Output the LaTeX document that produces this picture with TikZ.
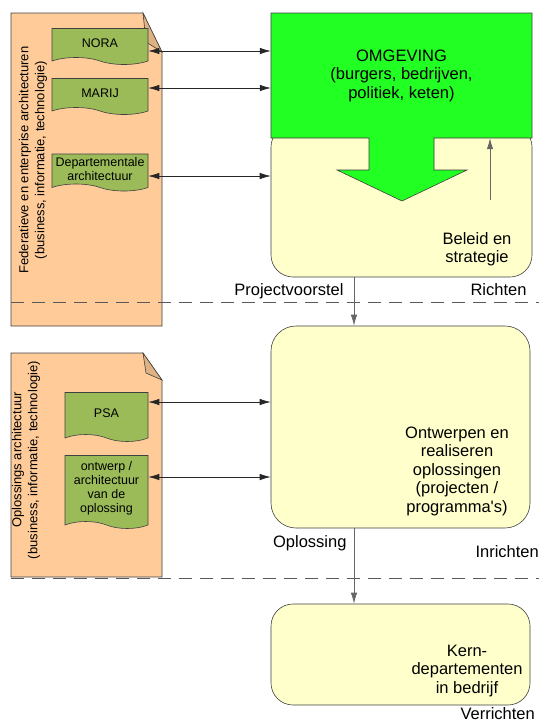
\documentclass[tikz,border=0pt]{standalone}
\usepackage{fontspec}
\setmainfont{Liberation Sans}
\usetikzlibrary{shapes.symbols, arrows.meta}

\definecolor{peach}{HTML}{FFCC99}
\definecolor{foldbrown}{HTML}{DEB282}
\definecolor{olive}{HTML}{9BBB59}
\definecolor{brightgreen}{HTML}{22FF22}
\definecolor{paleyellow}{HTML}{FFFFCC}
\definecolor{outline}{HTML}{404040}

\begin{document}
\begin{tikzpicture}[x=1pt,y=-1pt]

\tikzset{page/.style = {fill=peach, draw=outline, line width=0.6pt}}
\tikzset{fold/.style = {fill=foldbrown, draw=outline, line width=0.6pt}}
\tikzset{doc/.style = {shape=tape, tape bend top=none, tape bend bottom=out and in, tape bend height=7pt, draw=outline, fill=olive, line width=0.6pt, font=\fontsize{12.5}{14}\selectfont, align=center, inner sep=1pt}}
\tikzset{box/.style = {rectangle, rounded corners=22pt, draw=outline, fill=paleyellow, line width=0.6pt}}
\tikzset{txt/.style = {font=\fontsize{16.5}{18.5}\selectfont, align=center}}
\tikzset{side/.style = {rotate=90, font=\fontsize{13}{16}\selectfont, align=center}}
\tikzset{edge/.style = {<->, >={Latex[length=11pt,width=6.5pt]}, draw=black!85, line width=0.7pt}}
\tikzset{flow/.style = {->, >={Latex[length=11pt,width=6.5pt]}, draw=black!60, line width=0.8pt}}
\tikzset{sep/.style = {draw=black!65, dash pattern=on 13pt off 8pt, line width=0.7pt}}

\useasboundingbox (0,0) rectangle (539,721);

%documents
\draw[page] (11,13) -- (143,13) -- (162,52) -- (162,326) -- (11,326) -- cycle;
\draw[fold] (143,13) -- (162,52) -- (146,42) -- cycle;
\draw[page] (11,353) -- (143,353) -- (162,380) -- (162,577) -- (11,577) -- cycle;
\draw[fold] (143,353) -- (162,380) -- (146,373) -- cycle;
\node[side] (fed) at (33,160) {Federatieve en enterprise architecturen\\(business, informatie, technologie)};
\node[side] (sol) at (26,460) {Oplossings architectuur\\(business, informatie, technologie)};

\node[doc, minimum width=96pt, minimum height=36pt] (nora) at (100,43) {NORA};
\node[doc, minimum width=96pt, minimum height=36pt] (marij) at (100,93) {MARIJ};
\node[doc, minimum width=96pt, minimum height=37pt] (dept) at (100,169) {Departementale\\architectuur};
\node[doc, minimum width=83pt, minimum height=49pt] (psa) at (106.5,413.5) {PSA};
\node[doc, minimum width=83pt, minimum height=73pt] (design) at (106.5,488.5) {ontwerp /\\architectuur\\van de\\oplossing};

%boxes
\node[box, minimum width=261pt, minimum height=152pt] (steer) at (401.5,201) {};
\draw[fill=brightgreen, draw=outline, line width=0.6pt] (271,13) -- (532,13) -- (532,138) -- (434,138) -- (434,170) -- (467,170) -- (402,201) -- (337,170) -- (369,170) -- (369,138) -- (271,138) -- cycle;
\node[txt, minimum width=261pt, minimum height=125pt] (omgeving) at (401.5,75.5) {OMGEVING\\(burgers, bedrijven,\\politiek, keten)};
\node[txt] (beleid) at (477,249) {Beleid en\\strategie};
\node[box, rounded corners=25pt, minimum width=259pt, minimum height=202pt] (build) at (400.5,427) {};
\node[txt] (ontw) at (457,471) {Ontwerpen en\\realiseren\\oplossingen\\(projecten /\\programma\textquotesingle s)};
\node[box, minimum width=259pt, minimum height=101pt] (run) at (400.5,654.5) {};
\node[txt] (kern) at (467,671) {Kern-\\departementen\\in bedrijf};

%labels
\node[txt, anchor=base east] (voorstel) at (347,295) {Projectvoorstel};
\node[txt, anchor=base west] (richten) at (467,295) {Richten};
\node[txt, anchor=base east] (oplossing) at (350,547) {Oplossing};
\node[txt, anchor=base west] (inrichten) at (472,557) {Inrichten};
\node[txt, anchor=base west] (verrichten) at (457,719) {Verrichten};

%separators
\draw[sep] (11,302) -- (539,302);
\draw[sep] (11,578) -- (539,578);

%edges
\coordinate (spine) at (354,0);
\coordinate (terug) at (490,200);
\draw[edge] ([yshift=-8pt]nora.east) -- ([yshift=-8pt]nora.east -| omgeving.west);
\draw[edge] ([yshift=5pt]marij.east) -- ([yshift=5pt]marij.east -| omgeving.west);
\draw[edge] ([yshift=-7pt]dept.east) -- ([yshift=-7pt]dept.east -| steer.west);
\draw[edge] ([yshift=11.5pt]psa.east) -- ([yshift=11.5pt]psa.east -| build.west);
\draw[edge] ([yshift=11.5pt]design.east) -- ([yshift=11.5pt]design.east -| build.west);
\draw[flow] (terug) -- (terug |- omgeving.south);
\draw[flow] (steer.south -| spine) -- (build.north -| spine);
\draw[flow] (build.south -| spine) -- (run.north -| spine);

\end{tikzpicture}
\end{document}
